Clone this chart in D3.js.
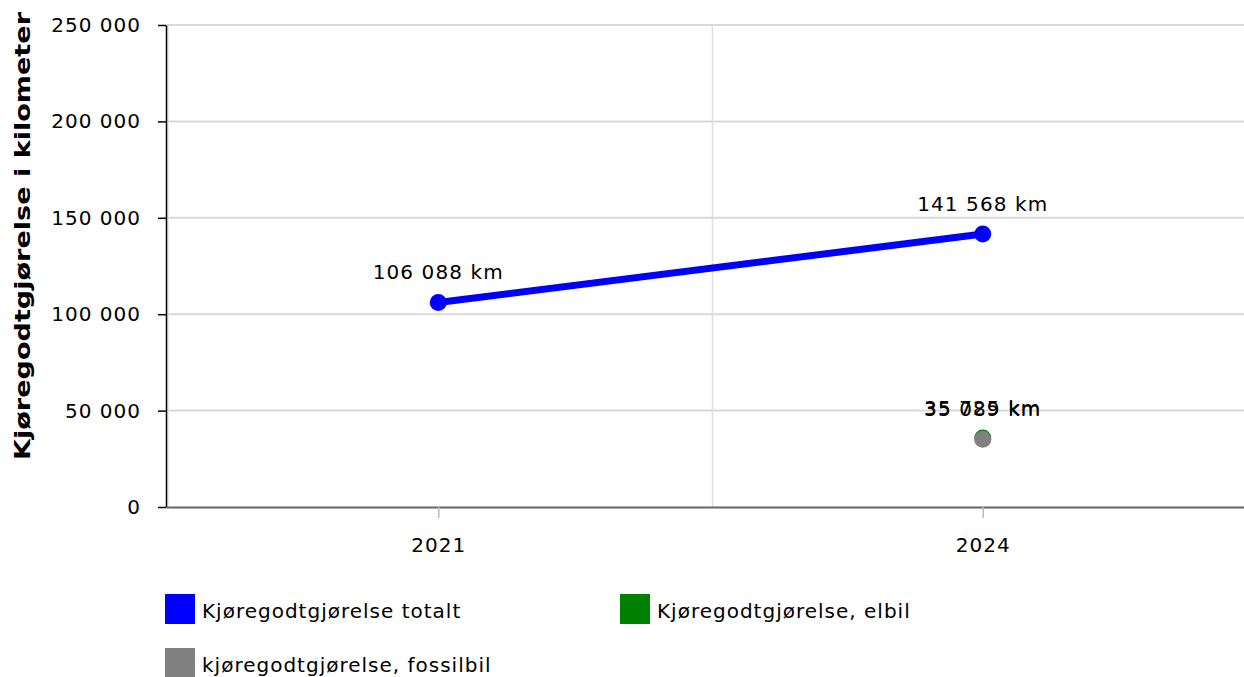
<!DOCTYPE html>
<html>
<head>
<meta charset="utf-8">
<script src="https://cdn.jsdelivr.net/npm/d3@7"></script>
<style>
  body { margin: 0; background: #fff; }
  text { font-family: "DejaVu Sans", Verdana, sans-serif; }
</style>
</head>
<body>
<div id="chart"></div>
<script>
// data
var years = ["2021", "2024"];
var seriesNames = ["Kjøregodtgjørelse totalt", "Kjøregodtgjørelse, elbil", "kjøregodtgjørelse, fossilbil"];
var seriesColors = ["#0000ff", "#008000", "#808080"];
var totalt = [106088, 141568];
var elbil = [null, 35725];
var fossilbil = [null, 35089];
var yTicks = [0, 50000, 100000, 150000, 200000, 250000];
var yTitle = "Kjøregodtgjørelse i kilometer";

var W = 1244, H = 677;
var margin = {top: 25, right: 0, bottom: 170, left: 166};
var width = W - margin.left - margin.right,
    height = H - margin.top - margin.bottom;

var svg = d3.select("#chart").append("svg")
    .attr("width", W)
    .attr("height", H);

var g = svg.append("g")
    .attr("transform", "translate(" + margin.left + "," + margin.top + ")");

var x = d3.scalePoint()
    .domain(years)
    .range([0, 1089])
    .padding(0.5);
var step = x.step();

var y = d3.scaleLinear()
    .domain([0, 250000])
    .range([height, 0]);

var fmt = function(v) { return d3.format(",")(v).replace(/,/g, " "); };

// horizontal gridlines
g.append("g")
  .selectAll("line")
  .data(yTicks.slice(1))
  .join("line")
    .attr("x1", 0).attr("x2", width)
    .attr("y1", function(d) { return y(d); })
    .attr("y2", function(d) { return y(d); })
    .attr("stroke", "#d9d9d9")
    .attr("stroke-width", 2);

// vertical gridlines between categories
g.append("g")
  .selectAll("line")
  .data([0, 1])
  .join("line")
    .attr("x1", function(i) { return x(years[0]) - step / 2 + i * step + 2; })
    .attr("x2", function(i) { return x(years[0]) - step / 2 + i * step + 2; })
    .attr("y1", 0).attr("y2", height)
    .attr("stroke", "#e0e0e0")
    .attr("stroke-width", 1.5);

// y axis
var yAxis = g.append("g")
    .call(d3.axisLeft(y).tickValues(yTicks).tickFormat(fmt)
      .tickSize(8).tickSizeOuter(0).tickPadding(17));
yAxis.select(".domain").attr("stroke", "#000").attr("stroke-width", 1.5);
yAxis.selectAll(".tick line").attr("stroke", "#000").attr("stroke-width", 1.5);
yAxis.selectAll("text")
    .attr("font-size", 20)
    .attr("letter-spacing", 1)
    .attr("font-family", "DejaVu Sans, Verdana, sans-serif")
    .attr("fill", "#000");

// x axis
var xAxis = g.append("g")
    .attr("transform", "translate(0," + height + ")")
    .call(d3.axisBottom(x).tickSize(11).tickSizeOuter(0).tickPadding(20));
xAxis.select(".domain").attr("stroke", "#666").attr("stroke-width", 2);
xAxis.selectAll(".tick line").attr("stroke", "#bbb").attr("stroke-width", 1.5);
xAxis.selectAll("text")
    .attr("font-size", 20)
    .attr("letter-spacing", 1)
    .attr("font-family", "DejaVu Sans, Verdana, sans-serif")
    .attr("fill", "#000");

// y title
svg.append("text")
    .attr("transform", "translate(30,236) rotate(-90)")
    .attr("text-anchor", "middle")
    .attr("font-size", 21)
    .attr("font-weight", "bold")
    .attr("textLength", 448)
    .attr("lengthAdjust", "spacingAndGlyphs")
    .attr("fill", "#000")
    .text(yTitle);

// series
var allSeries = [totalt, elbil, fossilbil];
allSeries.forEach(function(vals, si) {
  var pts = years.map(function(yr, i) { return {year: yr, v: vals[i]}; })
    .filter(function(d) { return d.v != null; });

  g.append("path")
    .datum(pts)
    .attr("fill", "none")
    .attr("stroke", seriesColors[si])
    .attr("stroke-width", 7)
    .attr("d", d3.line()
      .x(function(d) { return x(d.year); })
      .y(function(d) { return y(d.v); }));

  g.append("g").selectAll("circle")
    .data(pts)
    .join("circle")
      .attr("cx", function(d) { return x(d.year); })
      .attr("cy", function(d) { return y(d.v); })
      .attr("r", 8.5)
      .attr("fill", seriesColors[si]);

  g.append("g").selectAll("text")
    .data(pts)
    .join("text")
      .attr("x", function(d) { return x(d.year); })
      .attr("y", function(d) { return y(d.v) - 23; })
      .attr("text-anchor", "middle")
      .attr("font-size", 20)
      .attr("letter-spacing", 1.1)
      .attr("fill", "#000")
      .text(function(d) { return fmt(d.v) + " km"; });
});

// legend
var legendPos = [[165, 594], [620, 594], [165, 648]];
var legend = svg.append("g").selectAll("g")
  .data(seriesNames)
  .join("g")
    .attr("transform", function(d, i) { return "translate(" + legendPos[i][0] + "," + legendPos[i][1] + ")"; });
legend.append("rect")
    .attr("width", 30).attr("height", 30)
    .attr("fill", function(d, i) { return seriesColors[i]; });
legend.append("text")
    .attr("x", 37).attr("y", 24)
    .attr("font-size", 20)
    .attr("letter-spacing", 1)
    .attr("fill", "#000")
    .text(function(d) { return d; });
</script>
</body>
</html>
